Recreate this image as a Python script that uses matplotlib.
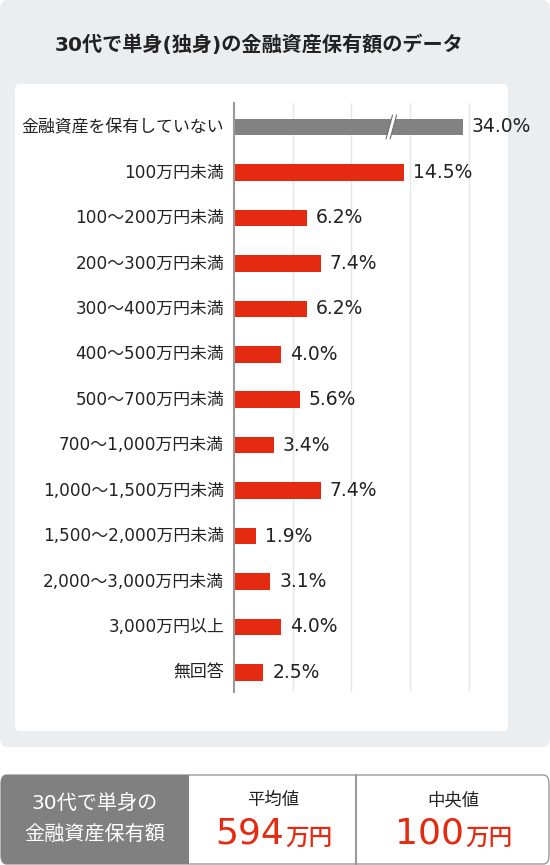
import matplotlib
matplotlib.use("Agg")
import matplotlib.pyplot as plt
from matplotlib.patches import FancyBboxPatch, Rectangle, Polygon

plt.rcParams['font.family'] = ['DejaVu Sans', 'Noto Sans CJK JP']

# data
categories = ["金融資産を保有していない", "100万円未満", "100～200万円未満", "200～300万円未満",
              "300～400万円未満", "400～500万円未満", "500～700万円未満", "700～1,000万円未満",
              "1,000～1,500万円未満", "1,500～2,000万円未満", "2,000～3,000万円未満",
              "3,000万円以上", "無回答"]
values = [34.0, 14.5, 6.2, 7.4, 6.2, 4.0, 5.6, 3.4, 7.4, 1.9, 3.1, 4.0, 2.5]
title = "30代で単身(独身)の金融資産保有額のデータ"
summary_label = ["30代で単身の", "金融資産保有額"]
mean_value = 594
median_value = 100

RED = "#E42B12"
GRAY = "#828282"
W, H = 550, 865

fig = plt.figure(figsize=(5.5, 8.65), dpi=100)
fig.patch.set_facecolor("white")


def fx(x):
    return x / W


def fy(y):
    return 1 - y / H


# background panels
fig.patches.append(FancyBboxPatch((fx(0), fy(747)), fx(550), 747 / H,
                                  boxstyle="round,pad=0,rounding_size=0.012",
                                  transform=fig.transFigure, fc="#EBEEF1", ec="none", zorder=0))
fig.patches.append(FancyBboxPatch((fx(15), fy(731)), fx(493), 647 / H,
                                  boxstyle="round,pad=0,rounding_size=0.008",
                                  transform=fig.transFigure, fc="white", ec="none", zorder=0))

fig.text(fx(259), fy(45), title, ha="center", va="center", fontsize=14.5,
         fontweight="bold", color="#222222")

# bar chart
px_per = 11.74
cap = 19.5
ax_l, ax_r, ax_t, ax_b = 234, 504, 103, 692
ax = fig.add_axes([fx(ax_l), fy(ax_b), fx(ax_r - ax_l), (ax_b - ax_t) / H])
ax.set_zorder(5)
ax.set_facecolor("none")
n = len(categories)
ax.set_xlim(0, (ax_r - ax_l) / px_per)
ax.set_ylim(n - 1 + 0.43, -0.528)

shown = [min(v, cap) for v in values]
colors = [GRAY] + [RED] * (n - 1)
ax.barh(range(n), shown, height=0.363, color=colors, zorder=3)

for g in [5, 10, 15, 20]:
    ax.axvline(g, color="#E3E6EA", lw=1, zorder=1)

for i, (v, s) in enumerate(zip(values, shown)):
    ax.text(s + 0.75, i, f"{v:.1f}%", va="center", ha="left", fontsize=13.5, color="#222222")
    ax.text(-0.85, i, categories[i], va="center", ha="right", fontsize=12.2, color="#222222")

# break mark on the capped bar
bx = 13.5
ax.add_patch(Polygon([[bx - 0.5, 0.22], [bx - 0.05, -0.22], [bx + 0.3, -0.22], [bx - 0.15, 0.22]],
                     closed=True, fc="white", ec="none", zorder=4))
ax.plot([bx - 0.55, bx - 0.0], [0.26, -0.26], color="#6E6E6E", lw=0.8, zorder=5)
ax.plot([bx - 0.2, bx + 0.35], [0.26, -0.26], color="#6E6E6E", lw=0.8, zorder=5)

for sp in ["top", "right", "bottom"]:
    ax.spines[sp].set_visible(False)
ax.spines["left"].set_color("#9A9A9A")
ax.spines["left"].set_linewidth(1.5)
ax.spines["left"].set_zorder(6)
ax.set_xticks([])
ax.set_yticks([])

# summary table
ty, tb = 775, 864
fig.patches.append(FancyBboxPatch((fx(1), fy(tb)), fx(548), (tb - ty) / H,
                                  boxstyle="round,pad=0,rounding_size=0.01",
                                  transform=fig.transFigure, fc="white", ec="#9A9A9A", lw=1, zorder=1))
fig.patches.append(FancyBboxPatch((fx(1), fy(tb)), fx(188), (tb - ty) / H,
                                  boxstyle="round,pad=0,rounding_size=0.01",
                                  transform=fig.transFigure, fc="#808080", ec="none", zorder=2))
fig.patches.append(Rectangle((fx(170), fy(tb)), fx(19), (tb - ty) / H,
                             transform=fig.transFigure, fc="#808080", ec="none", zorder=2))
fig.lines.append(plt.Line2D([fx(356), fx(356)], [fy(ty), fy(tb)], transform=fig.transFigure,
                            color="#9A9A9A", lw=1.5, zorder=3))

fig.text(fx(95), fy(803), summary_label[0], ha="center", va="center", fontsize=14.5, color="white")
fig.text(fx(95), fy(834), summary_label[1], ha="center", va="center", fontsize=14.5, color="white")

for cx, head, val in [(273, "平均値", mean_value), (453, "中央値", median_value)]:
    fig.text(fx(cx), fy(800), head, ha="center", va="center", fontsize=12.5, color="#222222")
    fig.text(fx(cx + 11), fy(834), f"{val}", ha="right", va="center",
             fontsize=26, color=RED)
    fig.text(fx(cx + 12), fy(838), "万円", ha="left", va="center",
             fontsize=17, fontweight="medium", color=RED)

fig.savefig("out.png", dpi=100)
